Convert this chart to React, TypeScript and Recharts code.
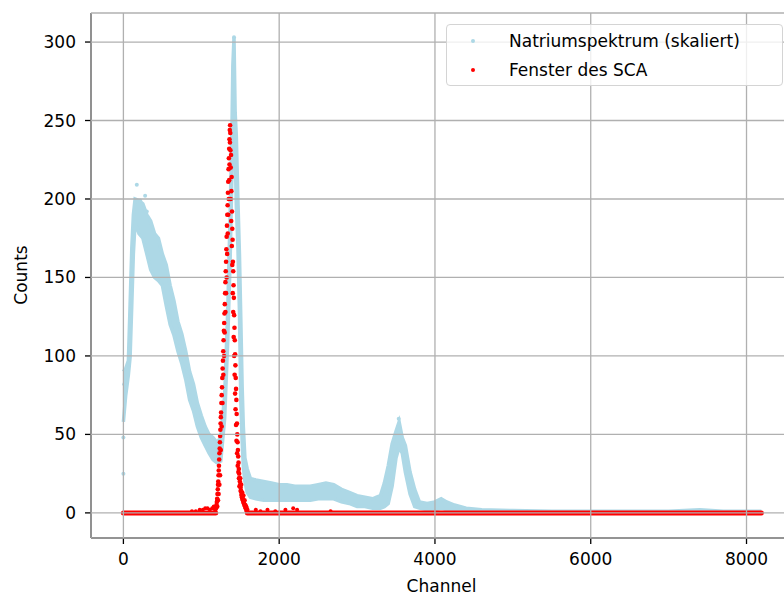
import {
  ComposedChart,
  Area,
  Line,
  Scatter,
  XAxis,
  YAxis,
  CartesianGrid,
  Legend,
  Label,
} from "recharts"

// Natriumspektrum (skaliert): band read as lower / upper edge of the point cloud
const bandChannels = [
  0, 30, 64, 86, 108, 128, 150, 200, 250, 300, 350, 400, 450, 500, 550, 600, 650, 700, 750, 800,
  850, 900, 950, 1000, 1050, 1100, 1150, 1200, 1250, 1300, 1340, 1370, 1395, 1405, 1420, 1435,
  1450, 1470, 1490, 1507, 1525, 1540, 1560, 1590, 1630, 1700, 1800, 1900, 2000, 2100, 2200, 2300,
  2400, 2500, 2600, 2700, 2800, 2900, 3000, 3100, 3200, 3250, 3300, 3350, 3400, 3450, 3500, 3540,
  3580, 3620, 3680, 3740, 3800, 3900, 4000, 4080, 4150, 4250, 4400, 4600, 5000, 5500, 6000, 6500,
  7000, 7400, 7700, 8191,
]
const bandLow = [
  58, 75, 88, 99, 133, 165, 185, 178, 175, 165, 155, 150, 148, 145, 132, 120, 113, 103, 95, 85,
  72, 65, 55, 48, 43, 38, 34, 32, 33, 60, 110, 160, 220, 250, 265, 230,
  195, 170, 128, 72, 45, 29, 20, 13, 10, 9, 8, 8, 8, 8, 8, 8,
  8, 9, 9, 9, 7, 6, 4, 4, 3, 3, 3, 4, 6, 17, 35, 42,
  38, 26, 12, 4, 3, 2, 2, 3, 2, 2, 1, 0, 0, 0, 0, 0,
  0, 0, 0, 0,
]
const bandHigh = [
  90, 92, 97, 133, 169, 190, 200, 199, 197, 190, 186, 178, 175, 165, 158, 145, 135, 122, 114, 103,
  90, 82, 70, 62, 55, 50, 48, 45, 48, 75, 130, 190, 250, 285, 303, 255,
  240, 200, 165, 125, 80, 55, 35, 28, 22, 21, 20, 19, 18, 18, 17, 17,
  17, 18, 19, 18, 15, 13, 11, 10, 9, 10, 11, 19, 30, 44, 52, 58,
  48, 43, 26, 15, 7, 6, 7, 9, 7, 5, 3, 2, 1.5, 1, 1, 1,
  1, 2, 1, 1,
]

// single light-blue points lying outside the band
const blueExtraChannels = [0, 0, 10, 172, 215, 279, 300, 1420, 3535]
const blueExtraCounts = [25, 48, 82, 209, 199, 202, 192, 303, 60]

// Fenster des SCA: the window peak (main ridge)
const windowChannels = [
  1180, 1188, 1195, 1200, 1204, 1208, 1212, 1215, 1218, 1221, 1224, 1227, 1230, 1233, 1236, 1239,
  1242, 1245, 1248, 1251, 1254, 1258, 1262, 1266, 1270, 1274, 1278, 1282, 1286, 1290, 1294, 1298,
  1302, 1306, 1310, 1314, 1318, 1322, 1326, 1330, 1334, 1338, 1342, 1346, 1350, 1354, 1358, 1362,
  1366, 1370, 1374, 1378, 1382, 1386, 1390, 1394, 1398, 1402, 1406, 1410, 1414, 1418, 1422, 1426,
  1430, 1434, 1438, 1442, 1446, 1450, 1454, 1458, 1462, 1466, 1470, 1474, 1478, 1482, 1486, 1490,
  1495, 1500, 1505, 1510, 1516, 1522, 1528, 1534, 1540, 1547, 1554, 1562, 1570, 1578, 1586,
]
const windowCounts = [
  2, 3, 5, 7, 9, 12, 15, 18, 20, 24, 27, 30, 34, 38, 41, 45,
  49, 53, 57, 61, 64, 70, 75, 80, 86, 92, 97, 103, 110, 116, 121, 127,
  133, 140, 147, 154, 160, 168, 176, 183, 190, 196, 204, 211, 219, 226, 232, 238,
  244, 247, 231, 220, 228, 205, 214, 192, 181, 174, 160, 154, 145, 137, 126, 118,
  110, 101, 94, 86, 79, 72, 63, 57, 50, 45, 40, 36, 32, 28, 25, 22,
  20, 18, 16, 14, 12, 10, 9, 8, 7, 6, 5, 4, 3, 2, 1,
]
// Fenster des SCA: scattered points beside the ridge
const windowSpreadChannels = [
  1205, 1214, 1222, 1232, 1241, 1250, 1262, 1272, 1283, 1292, 1300, 1310, 1318, 1325, 1332, 1340,
  1346, 1352, 1358, 1362, 1368, 1372, 1378, 1384, 1392, 1398, 1404, 1410, 1416, 1422, 1428, 1434,
  1440, 1446, 1452, 1460, 1468, 1476, 1484, 1490, 1500, 1506, 1512, 1518, 1525, 1532, 1540, 1548,
  1555, 1565, 1575, 1582, 1590,
]
const windowSpreadCounts = [
  4, 8, 12, 18, 24, 40, 55, 70, 88, 100, 115, 128, 140, 150, 165, 178,
  190, 200, 212, 222, 236, 242, 200, 186, 170, 158, 140, 128, 112, 100, 88, 76,
  66, 56, 46, 38, 30, 26, 22, 17, 22, 14, 18, 11, 13, 9, 11, 7,
  8, 5, 4, 3, 2,
]
// small red counts outside the window
const redLowChannels = [880, 930, 980, 1020, 1050, 1080, 1110, 1140, 1160, 1172, 1700, 1760, 1850, 1950, 2080, 2180, 2230, 2660]
const redLowCounts = [1, 1, 2, 2, 3, 3, 2, 3, 4, 3, 2, 1, 2, 1, 2, 3, 2, 1]
// red zero line (gap under the window)
const baselineChannels = [0, 1185, 1390, 1592, 8191]
const baselineCounts = [0, 0, null, 0, 0]

const xTicks = [0, 2000, 4000, 6000, 8000]
const yTicks = [0, 50, 100, 150, 200, 250, 300]

const BLUE = "#add8e6"
const RED = "#ff0000"
const FONT = "DejaVu Sans"

const bandRows = bandChannels.map((ch, i) => ({ ch, lo: bandLow[i], hi: bandHigh[i] }))
const blueExtra = blueExtraChannels.map((ch, i) => ({ ch, v: blueExtraCounts[i] }))
const windowRows = windowChannels.map((ch, i) => ({ ch, v: windowCounts[i] }))
const windowSpread = windowSpreadChannels.map((ch, i) => ({ ch, v: windowSpreadCounts[i] }))
const redLow = redLowChannels.map((ch, i) => ({ ch, v: redLowCounts[i] }))
const baselineRows = baselineChannels.map((ch, i) => ({ ch, v: baselineCounts[i] }))

const dot = (color: string, r = 2) => (p: any) => <circle cx={p.cx} cy={p.cy} r={r} fill={color} />

const tickStyle = { fill: "#000", fontSize: 17, fontFamily: FONT }

function LegendBox() {
  const rows = [
    { name: "Natriumspektrum (skaliert)", color: BLUE },
    { name: "Fenster des SCA", color: RED },
  ]
  return (
    <div
      style={{
        boxSizing: "border-box",
        width: 337,
        height: 62,
        border: "1px solid #d4d4d4",
        borderRadius: 4,
        background: "rgba(255,255,255,0.8)",
        fontFamily: FONT,
        fontSize: 17,
        color: "#000",
        paddingTop: 1,
      }}
    >
      {rows.map((r) => (
        <div key={r.name} style={{ display: "flex", alignItems: "center", height: 29 }}>
          <span
            style={{
              display: "inline-block",
              width: 4,
              height: 4,
              borderRadius: 2,
              background: r.color,
              marginLeft: 24,
              marginRight: 34,
            }}
          />
          <span>{r.name}</span>
        </div>
      ))}
    </div>
  )
}

export default function App() {
  return (
    <div
      style={{
        position: "fixed",
        left: 0,
        top: 0,
        width: 784,
        height: 596,
        overflow: "hidden",
        background: "#fff",
      }}
    >
      <ComposedChart
        width={800}
        height={596}
        data={bandRows}
        margin={{ top: 13, right: 8, bottom: 0, left: 0 }}
      >
        <XAxis
          dataKey="ch"
          type="number"
          domain={[-416, 8584]}
          allowDataOverflow
          ticks={xTicks}
          interval={0}
          height={58}
          tickSize={6}
          tickMargin={9}
          stroke="#000"
          strokeWidth={1.3}
          tick={tickStyle}
        >
          <Label value="Channel" position="insideBottom" offset={4} fill="#000" fontSize={17} fontFamily={FONT} />
        </XAxis>
        <XAxis
          xAxisId="top"
          orientation="top"
          type="number"
          domain={[0, 1]}
          height={0}
          tick={false}
          tickLine={false}
          stroke="#000"
          strokeWidth={1.3}
        />
        <YAxis
          type="number"
          domain={[-16, 318.5]}
          allowDataOverflow
          ticks={yTicks}
          interval={0}
          width={91}
          tickSize={6}
          tickMargin={9}
          stroke="#000"
          strokeWidth={1.3}
          tick={tickStyle}
        >
          <Label
            content={() => (
              <text
                x={21}
                y={275}
                transform="rotate(-90 21 275)"
                textAnchor="middle"
                dominantBaseline="central"
                fill="#000"
                fontSize={17}
                fontFamily={FONT}
              >
                Counts
              </text>
            )}
          />
        </YAxis>
        <Area
          type="linear"
          dataKey={(r: any) => [r.lo, r.hi]}
          fill={BLUE}
          fillOpacity={1}
          stroke={BLUE}
          strokeWidth={3.5}
          dot={false}
          activeDot={false}
          isAnimationActive={false}
        />
        <Scatter data={blueExtra} dataKey="v" shape={dot(BLUE)} isAnimationActive={false} />
        <Line
          data={baselineRows}
          dataKey="v"
          type="linear"
          stroke={RED}
          strokeWidth={5}
          strokeLinecap="round"
          dot={false}
          activeDot={false}
          connectNulls={false}
          isAnimationActive={false}
        />
        <Scatter data={redLow} dataKey="v" shape={dot(RED)} isAnimationActive={false} />
        <Scatter data={windowRows} dataKey="v" shape={dot(RED, 2.3)} isAnimationActive={false} />
        <Scatter data={windowSpread} dataKey="v" shape={dot(RED, 2.3)} isAnimationActive={false} />
        <CartesianGrid stroke="#b0b0b0" strokeWidth={1.3} zIndex={700} />
        <Legend
          layout="horizontal"
          verticalAlign="middle"
          align="center"
          content={() => <LegendBox />}
          wrapperStyle={{ left: 446, top: 24, width: 337, height: 62 }}
        />
      </ComposedChart>
    </div>
  )
}
